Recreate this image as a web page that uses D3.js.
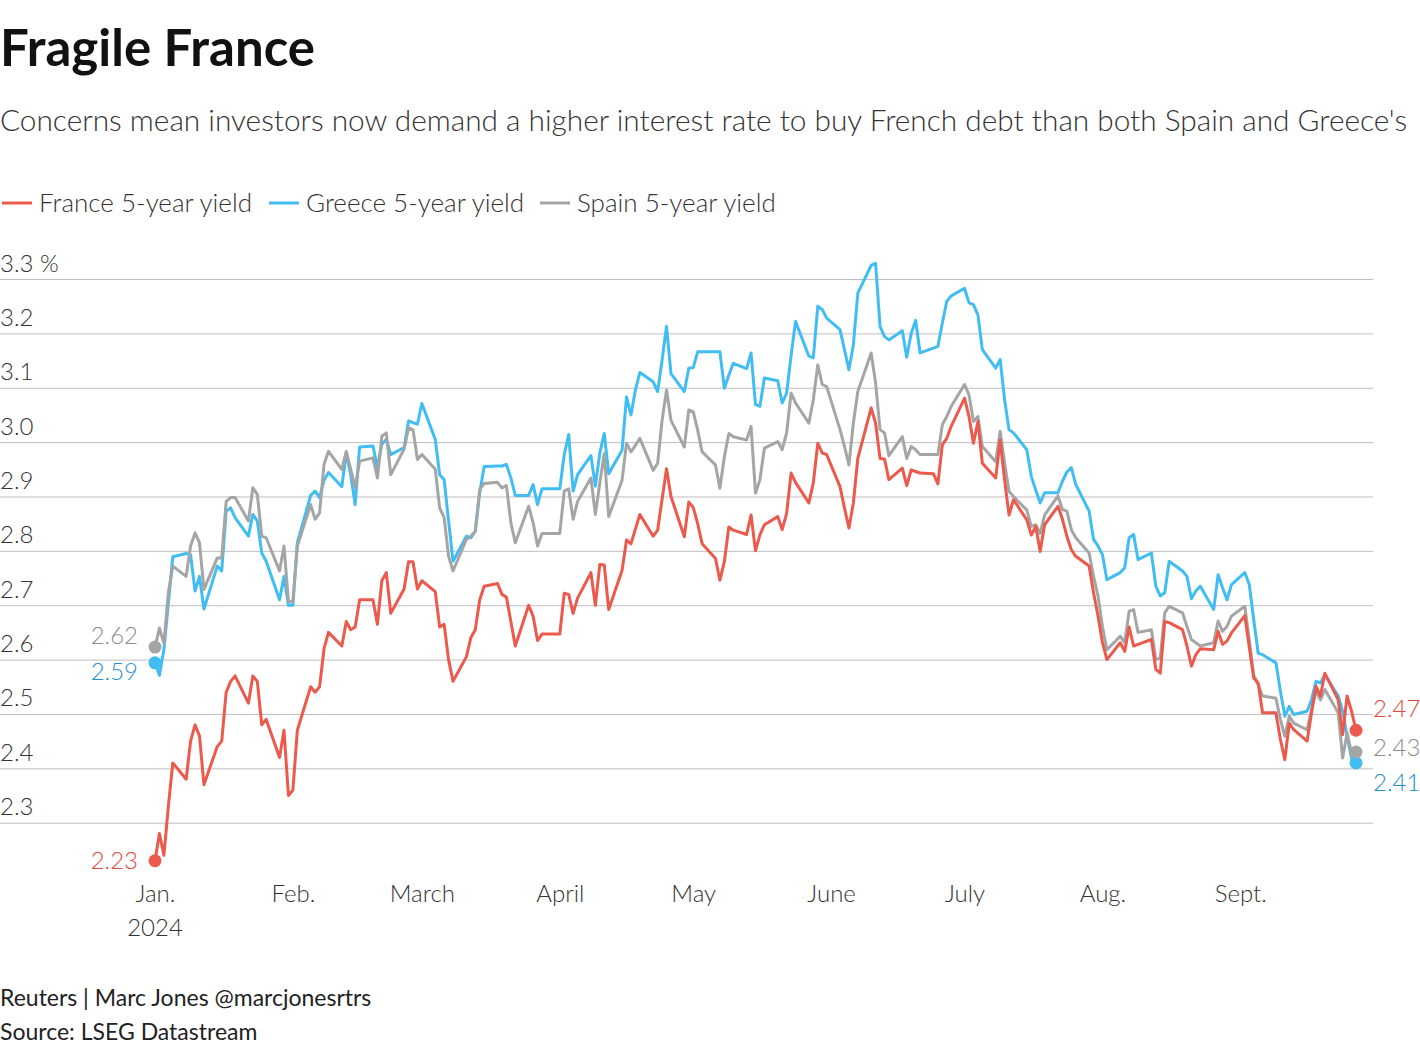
<!DOCTYPE html>
<html>
<head>
<meta charset="utf-8">
<script src="https://cdn.jsdelivr.net/npm/d3@7"></script>
<style>
  body { margin: 0; background: #fff; }
  text { font-family: "Source Sans Pro", Lato, "Noto Sans", sans-serif; }
</style>
</head>
<body>
<div id="chart"></div>
<script>
'use strict'
var width = 1420;
var height = 1054;

// first and last trading day, one value per weekday in between
var startDate = new Date(2024, 0, 1);
var endDate = new Date(2024, 8, 27);

// 5-year yields (%), one row per week, Monday..Friday
var franceYield = [
	2.23, 2.28, 2.24, 2.33, 2.41,
	2.38, 2.45, 2.48, 2.46, 2.37,
	2.44, 2.45, 2.54, 2.56, 2.57,
	2.52, 2.57, 2.56, 2.48, 2.49,
	2.42, 2.47, 2.35, 2.36, 2.47,
	2.55, 2.54, 2.55, 2.62, 2.65,
	2.625, 2.67, 2.655, 2.66, 2.71,
	2.71, 2.665, 2.745, 2.76, 2.685,
	2.73, 2.78, 2.78, 2.73, 2.745,
	2.725, 2.66, 2.665, 2.60, 2.56,
	2.605, 2.64, 2.655, 2.71, 2.735,
	2.74, 2.72, 2.715, 2.67, 2.625,
	2.70, 2.68, 2.635, 2.647, 2.647,
	2.647, 2.722, 2.72, 2.685, 2.713,
	2.76, 2.70, 2.775, 2.774, 2.692,
	2.764, 2.82, 2.813, 2.84, 2.867,
	2.827, 2.838, 2.895, 2.951, 2.90,
	2.826, 2.89, 2.88, 2.85, 2.813,
	2.786, 2.746, 2.78, 2.844, 2.838,
	2.83, 2.866, 2.80, 2.83, 2.848,
	2.863, 2.839, 2.869, 2.943, 2.926,
	2.888, 2.925, 2.998, 2.98, 2.977,
	2.918, 2.879, 2.842, 2.888, 2.97,
	3.063, 3.035, 2.97, 2.969, 2.931,
	2.952, 2.92, 2.949, 2.946, 2.943,
	2.942, 2.923, 2.995, 3.007, 3.029,
	3.081, 3.047, 2.998, 3.038, 2.961,
	2.934, 3.004, 2.93, 2.866, 2.894,
	2.857, 2.829, 2.845, 2.799, 2.848,
	2.882, 2.858, 2.827, 2.802, 2.79,
	2.772, 2.723, 2.68, 2.631, 2.60,
	2.631, 2.615, 2.66, 2.625, 2.628,
	2.637, 2.582, 2.575, 2.67, 2.668,
	2.655, 2.625, 2.588, 2.609, 2.62,
	2.618, 2.652, 2.628, 2.634, 2.649,
	2.681, 2.623, 2.566, 2.557, 2.502,
	2.502, 2.453, 2.416, 2.483, 2.471,
	2.45, 2.502, 2.551, 2.533, 2.575,
	2.526, 2.462, 2.533, 2.505, 2.47
];

var greeceYield = [
	2.594, 2.571, 2.618, 2.704, 2.789,
	2.795, 2.793, 2.726, 2.753, 2.693,
	2.772, 2.763, 2.873, 2.879, 2.861,
	2.827, 2.867, 2.855, 2.796, 2.781,
	2.71, 2.753, 2.70, 2.70, 2.815,
	2.902, 2.91, 2.898, 2.93, 2.944,
	2.918, 2.98, 2.94, 2.885, 2.991,
	2.993, 2.953, 2.996, 3.005, 2.977,
	2.99, 3.039, 3.036, 3.033, 3.071,
	3.005, 2.94, 2.931, 2.855, 2.781,
	2.827, 2.824, 2.836, 2.907, 2.955,
	2.956, 2.956, 2.959, 2.934, 2.902,
	2.902, 2.922, 2.885, 2.914, 2.914,
	2.914, 2.977, 3.014, 2.91, 2.94,
	2.975, 2.919, 2.98, 3.016, 2.942,
	2.985, 3.083, 3.05, 3.096, 3.128,
	3.111, 3.093, 3.151, 3.213, 3.126,
	3.093, 3.136, 3.137, 3.166, 3.166,
	3.166, 3.166, 3.099, 3.123, 3.145,
	3.135, 3.164, 3.069, 3.066, 3.118,
	3.113, 3.072, 3.09, 3.159, 3.222,
	3.158, 3.155, 3.25, 3.244, 3.228,
	3.207, 3.17, 3.133, 3.179, 3.274,
	3.325, 3.329, 3.213, 3.194, 3.188,
	3.205, 3.156, 3.2, 3.224, 3.164,
	3.173, 3.176, 3.219, 3.259, 3.269,
	3.283, 3.256, 3.253, 3.234, 3.17,
	3.136, 3.152, 3.078, 3.023, 3.017,
	2.986, 2.937, 2.912, 2.888, 2.907,
	2.907, 2.928, 2.945, 2.953, 2.922,
	2.873, 2.821, 2.809, 2.793, 2.747,
	2.76, 2.769, 2.824, 2.83, 2.784,
	2.796, 2.735, 2.717, 2.723, 2.781,
	2.763, 2.753, 2.712, 2.726, 2.735,
	2.692, 2.756, 2.732, 2.71, 2.738,
	2.76, 2.738, 2.674, 2.612, 2.609,
	2.594, 2.542, 2.496, 2.514, 2.499,
	2.505, 2.526, 2.56, 2.557, 2.572,
	2.533, 2.505, 2.459, 2.419, 2.41
];

var spainYield = [
	2.623, 2.658, 2.63, 2.723, 2.772,
	2.753, 2.809, 2.833, 2.815, 2.729,
	2.787, 2.787, 2.891, 2.898, 2.898,
	2.855, 2.916, 2.904, 2.827, 2.824,
	2.763, 2.809, 2.707, 2.707, 2.809,
	2.885, 2.858, 2.87, 2.959, 2.983,
	2.95, 2.983, 2.95, 2.916, 2.965,
	2.971, 2.934, 3.011, 3.017, 2.94,
	2.987, 3.026, 3.023, 2.968, 2.977,
	2.95, 2.879, 2.861, 2.79, 2.763,
	2.821, 2.827, 2.836, 2.913, 2.924,
	2.926, 2.916, 2.92, 2.852, 2.815,
	2.882, 2.852, 2.809, 2.832, 2.832,
	2.832, 2.91, 2.914, 2.858, 2.891,
	2.934, 2.867, 2.925, 2.979, 2.863,
	2.93, 2.998, 2.982, 2.994, 3.007,
	2.948, 2.961, 3.04, 3.096, 3.04,
	2.991, 3.059, 3.056, 3.022, 2.982,
	2.958, 2.915, 2.973, 3.016, 3.01,
	3.004, 3.029, 2.906, 2.931, 2.989,
	3.001, 2.986, 3.017, 3.09, 3.072,
	3.035, 3.078, 3.142, 3.106, 3.102,
	3.023, 2.992, 2.958, 3.035, 3.093,
	3.164, 3.109, 3.023, 3.017, 2.975,
	3.01, 2.97, 2.992, 2.986, 2.977,
	2.977, 2.977, 3.032, 3.047, 3.066,
	3.106, 3.087, 3.038, 3.047, 2.992,
	2.964, 3.02, 2.961, 2.909, 2.9,
	2.875, 2.845, 2.848, 2.832, 2.866,
	2.901, 2.876, 2.873, 2.839, 2.824,
	2.796, 2.753, 2.717, 2.661, 2.618,
	2.643, 2.631, 2.689, 2.692, 2.65,
	2.655, 2.6, 2.603, 2.686, 2.698,
	2.686, 2.661, 2.637, 2.631, 2.625,
	2.631, 2.671, 2.652, 2.661, 2.68,
	2.698, 2.637, 2.572, 2.554, 2.533,
	2.529, 2.49, 2.459, 2.496, 2.483,
	2.471, 2.508, 2.542, 2.526, 2.545,
	2.502, 2.419, 2.465, 2.428, 2.43
];

var seriesNames = ['Greece 5-year yield', 'Spain 5-year yield', 'France 5-year yield'];
var legendOrder = ['France 5-year yield', 'Greece 5-year yield', 'Spain 5-year yield'];
var yTicks = [2.3, 2.4, 2.5, 2.6, 2.7, 2.8, 2.9, 3.0, 3.1, 3.2, 3.3];
var monthLabels = ['Jan.', 'Feb.', 'March', 'April', 'May', 'June', 'July', 'Aug.', 'Sept.'];

var lineColor = { 'France 5-year yield': '#eb5a4c', 'Greece 5-year yield': '#41bdf4', 'Spain 5-year yield': '#a5a5a5' };
var labelColor = { 'France 5-year yield': '#e2493d', 'Greece 5-year yield': '#1f8fcf', 'Spain 5-year yield': '#8c8c8c' };

var dates = d3.timeDay.range(startDate, d3.timeDay.offset(endDate, 1))
	.filter(function(d){ return d.getDay() !== 0 && d.getDay() !== 6; });

var valuesByName = {
	'France 5-year yield': franceYield,
	'Greece 5-year yield': greeceYield,
	'Spain 5-year yield': spainYield
};

var series = seriesNames.map(function(name){
	return {
		name: name,
		points: dates.map(function(d, i){ return { date: d, value: valuesByName[name][i] }; })
	};
});

var svg = d3.select('#chart')
	.append('svg')
	.attr('width', width)
	.attr('height', height);

// title block
svg.append('text')
	.attr('x', 0).attr('y', 66)
	.text('Fragile France')
	.style('font-size', '51px')
	.style('font-weight', 700)
	.style('fill', '#111');

svg.append('text')
	.attr('x', 0).attr('y', 131)
	.text("Concerns mean investors now demand a higher interest rate to buy French debt than both Spain and Greece's")
	.style('font-size', '29.8px')
	.style('font-weight', 300)
	.style('fill', '#333');

// legend
var legendX = [2, 269, 540];
var legend = svg.append('g')
	.selectAll('g')
	.data(legendOrder)
	.enter()
	.append('g')
		.attr('transform', function(d, i){ return 'translate(' + legendX[i] + ',203)'; });

legend.append('line')
	.attr('x1', 0).attr('x2', 30)
	.attr('y1', 0).attr('y2', 0)
	.style('stroke', function(d){ return lineColor[d]; })
	.style('stroke-width', 3);

legend.append('text')
	.attr('x', 37).attr('y', 0)
	.attr('dy', '0.35em')
	.text(function(d){ return d; })
	.style('font-size', '26px')
	.style('font-weight', 300)
	.style('fill', '#333');

// scales
var x = d3.scaleTime()
	.domain([startDate, endDate])
	.range([155, 1356]);

var y = d3.scaleLinear()
	.domain([2.3, 3.3])
	.range([822.7, 279]);

// y grid + labels
var yAxis = svg.append('g')
	.call(d3.axisRight(y)
		.tickValues(yTicks)
		.tickSize(1373)
		.tickFormat(function(d){ return d === 3.3 ? '3.3 %' : d3.format('.1f')(d); }));

yAxis.select('.domain').remove();
yAxis.selectAll('.tick line')
	.style('stroke', '#c2bcc4')
	.style('stroke-width', 1);
yAxis.selectAll('.tick text')
	.attr('x', 0)
	.attr('dy', '-8')
	.attr('text-anchor', 'start')
	.style('font-size', '24px')
	.style('font-weight', 300)
	.style('fill', '#333')
	.style('font-family', '"Source Sans Pro", Lato, "Noto Sans", sans-serif');

// x labels
var xAxis = svg.append('g')
	.attr('transform', 'translate(0,884)')
	.call(d3.axisBottom(x)
		.ticks(d3.timeMonth.every(1))
		.tickSize(0)
		.tickFormat(function(d){ return monthLabels[d.getMonth()]; }));

xAxis.select('.domain').remove();
xAxis.selectAll('.tick text')
	.attr('y', 0)
	.attr('dy', '0.75em')
	.style('font-size', '24px')
	.style('font-weight', 300)
	.style('fill', '#333')
	.style('font-family', '"Source Sans Pro", Lato, "Noto Sans", sans-serif');

xAxis.append('text')
	.attr('x', x(startDate))
	.attr('y', 34)
	.attr('dy', '0.75em')
	.attr('text-anchor', 'middle')
	.text('2024')
	.style('font-size', '24px')
	.style('font-weight', 300)
	.style('fill', '#333');

// lines
var line = d3.line()
	.x(function(d){ return x(d.date); })
	.y(function(d){ return y(d.value); });

svg.append('g')
	.selectAll('path')
	.data(series)
	.enter()
	.append('path')
		.attr('d', function(d){ return line(d.points); })
		.style('fill', 'none')
		.style('stroke', function(d){ return lineColor[d.name]; })
		.style('stroke-width', 3)
		.style('stroke-linejoin', 'round');

// end dots
var dots = [];
series.forEach(function(s){
	dots.push({ name: s.name, p: s.points[0], side: 'start' });
	dots.push({ name: s.name, p: s.points[s.points.length - 1], side: 'end' });
});

svg.append('g')
	.selectAll('circle')
	.data(dots)
	.enter()
	.append('circle')
		.attr('cx', function(d){ return x(d.p.date); })
		.attr('cy', function(d){ return y(d.p.value); })
		.attr('r', 6.5)
		.style('fill', function(d){ return lineColor[d.name]; });

// value labels, nudged apart where they would collide
var labelShift = {
	'start France 5-year yield': 0, 'start Greece 5-year yield': 9, 'start Spain 5-year yield': -11,
	'end France 5-year yield': -22, 'end Greece 5-year yield': 20, 'end Spain 5-year yield': -4
};

svg.append('g')
	.selectAll('text')
	.data(dots)
	.enter()
	.append('text')
		.attr('x', function(d){ return d.side === 'start' ? 138 : 1373; })
		.attr('y', function(d){ return y(d.p.value) + labelShift[d.side + ' ' + d.name]; })
		.attr('dy', '0.35em')
		.attr('text-anchor', function(d){ return d.side === 'start' ? 'end' : 'start'; })
		.text(function(d){ return d3.format('.2f')(d.p.value); })
		.style('font-size', '24px')
		.style('font-weight', 300)
		.style('fill', function(d){ return labelColor[d.name]; });

// footer
svg.append('text')
	.attr('x', 0).attr('y', 1006)
	.text('Reuters | Marc Jones @marcjonesrtrs')
	.style('font-size', '23px')
	.style('fill', '#222');

svg.append('text')
	.attr('x', 0).attr('y', 1040)
	.text('Source: LSEG Datastream')
	.style('font-size', '23px')
	.style('fill', '#222');
</script>
</body>
</html>
